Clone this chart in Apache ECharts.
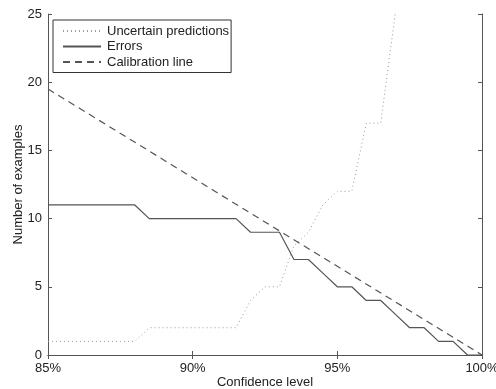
<!DOCTYPE html>
<html>
<head>
<meta charset="utf-8">
<script src="https://cdn.jsdelivr.net/npm/echarts@6/dist/echarts.min.js"></script>
<style>
  html, body { margin: 0; padding: 0; background: #fff; }
  #chart { width: 496px; height: 389px; }
</style>
</head>
<body>
<div id="chart"></div>
<script>
// confidence levels (%), sampled every half percent
var confLevels = [85, 85.5, 86, 86.5, 87, 87.5, 88, 88.5, 89, 89.5, 90, 90.5, 91, 91.5, 92, 92.5,
  93, 93.5, 94, 94.5, 95, 95.5, 96, 96.5, 97, 97.5, 98, 98.5, 99, 99.5, 100];
// uncertain predictions (goes off the top after 97%)
var uncertain = [1, 1, 1, 1, 1, 1, 1, 2, 2, 2, 2, 2, 2, 2, 4, 5,
  5, 8, 9, 11, 12, 12, 17, 17, 25, 38, 52, 68, 85, 100, 130];
// errors
var errors = [11, 11, 11, 11, 11, 11, 11, 10, 10, 10, 10, 10, 10, 10, 9, 9,
  9, 7, 7, 6, 5, 5, 4, 4, 3, 2, 2, 1, 1, 0, 0];
// calibration line end points
var calibX = [85, 100];
var calibY = [19.5, 0];
// tick labels
var xTicks = [85, 90, 95, 100];
var yTicks = [0, 5, 10, 15, 20, 25];

var font = 'Liberation Sans';
var axisGrey = '#555';

function pairs(xs, ys) {
  var out = [];
  for (var i = 0; i < xs.length; i++) out.push([xs[i], ys[i]]);
  return out;
}

var chart = echarts.init(document.getElementById('chart'));

var option = {
  animation: false,
  backgroundColor: '#fff',
  grid: { left: 48, right: 14, top: 14, bottom: 34, containLabel: false, outerBoundsMode: 'none' },
  legend: {
    orient: 'vertical',
    left: 53,
    top: 20,
    padding: [4.5, 2, 4, 9],
    itemWidth: 38,
    itemHeight: 12,
    itemGap: 2.5,
    backgroundColor: '#fff',
    borderColor: '#333',
    borderWidth: 1,
    borderRadius: 0,
    itemStyle: { opacity: 0 },
    textStyle: { fontFamily: font, fontSize: 13, color: '#222', padding: [0, 0, 0, 1] },
    data: ['Uncertain predictions', 'Errors', 'Calibration line']
  },
  xAxis: [{
    type: 'value',
    min: xTicks[0],
    max: xTicks[xTicks.length - 1],
    interval: 5,
    name: 'Confidence level',
    nameLocation: 'middle',
    nameGap: 21,
    nameMoveOverlap: false,
    nameTextStyle: { fontFamily: font, fontSize: 13, color: '#222' },
    axisLine: { lineStyle: { color: axisGrey, width: 1 } },
    axisTick: { inside: true, length: 4, lineStyle: { color: axisGrey } },
    axisLabel: { formatter: '{value}%', fontFamily: font, fontSize: 13, color: '#222', margin: 7 },
    splitLine: { show: false }
  }, {
    type: 'value',
    position: 'top',
    min: xTicks[0],
    max: xTicks[xTicks.length - 1],
    interval: 5,
    axisLine: { show: true, lineStyle: { color: axisGrey, width: 1 } },
    axisTick: { inside: true, length: 4, lineStyle: { color: axisGrey } },
    axisLabel: { show: false },
    splitLine: { show: false }
  }],
  yAxis: [{
    type: 'value',
    min: yTicks[0],
    max: yTicks[yTicks.length - 1],
    interval: 5,
    name: 'Number of examples',
    nameLocation: 'middle',
    nameGap: 23,
    nameMoveOverlap: false,
    nameTextStyle: { fontFamily: font, fontSize: 13, color: '#222' },
    axisLine: { show: true, lineStyle: { color: axisGrey, width: 1 } },
    axisTick: { show: true, inside: true, length: 4, lineStyle: { color: axisGrey } },
    axisLabel: { fontFamily: font, fontSize: 13, color: '#222', margin: 6 },
    splitLine: { show: false }
  }, {
    type: 'value',
    position: 'right',
    min: yTicks[0],
    max: yTicks[yTicks.length - 1],
    interval: 5,
    axisLine: { show: true, lineStyle: { color: axisGrey, width: 1 } },
    axisTick: { show: true, inside: true, length: 4, lineStyle: { color: axisGrey } },
    axisLabel: { show: false },
    splitLine: { show: false }
  }],
  series: [{
    name: 'Uncertain predictions',
    type: 'line',
    data: pairs(confLevels, uncertain),
    symbol: 'none',
    clip: true,
    color: '#999',
    lineStyle: { color: '#999', width: 1, type: [1, 3] }
  }, {
    name: 'Errors',
    type: 'line',
    data: pairs(confLevels, errors),
    symbol: 'none',
    clip: true,
    color: '#555',
    lineStyle: { color: '#555', width: 1.2, type: 'solid' }
  }, {
    name: 'Calibration line',
    type: 'line',
    data: pairs(calibX, calibY),
    symbol: 'none',
    clip: true,
    color: '#555',
    lineStyle: { color: '#555', width: 1.2, type: [7, 5] }
  }]
};

chart.setOption(option);
</script>
</body>
</html>
